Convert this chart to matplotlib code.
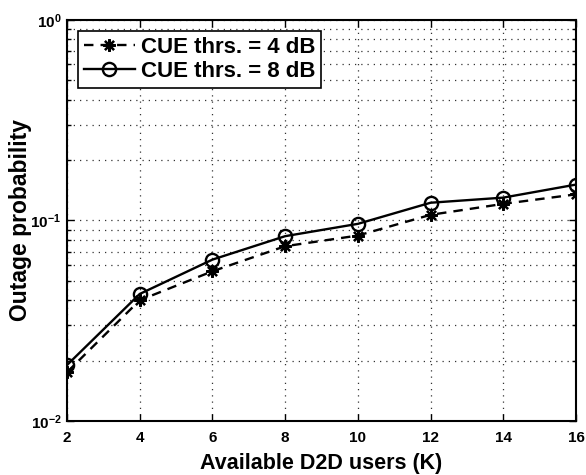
import matplotlib
matplotlib.use('Agg')
import matplotlib.pyplot as plt
from matplotlib.ticker import LogLocator, FixedLocator, LogFormatterMathtext

plt.rcParams['font.family'] = ['Liberation Sans', 'DejaVu Sans']
plt.rcParams['font.weight'] = 'bold'
plt.rcParams['mathtext.default'] = 'bf'

# data
k_users = [2, 4, 6, 8, 10, 12, 14, 16]
outage_4db = [0.0175, 0.040, 0.0558, 0.0744, 0.0841, 0.1067, 0.121, 0.135]
outage_8db = [0.019, 0.043, 0.0638, 0.0835, 0.0962, 0.1226, 0.130, 0.151]
labels = ['CUE thrs. = 4 dB', 'CUE thrs. = 8 dB']

fig = plt.figure(figsize=(5.86, 4.75), dpi=100)
ax = fig.add_axes([0.1143, 0.1137, 0.8687, 0.8443])

ax.plot(k_users, outage_4db, '--', color='k', lw=1.7, dashes=(4, 3), marker=(8, 2, 0),
        ms=9, mec='k', mew=1.6, label=labels[0])
ax.plot(k_users, outage_8db, '-', color='k', lw=1.7, marker='o', ms=9.5,
        mfc='none', mec='k', mew=1.7, label=labels[1])

ax.set_yscale('log')
ax.set_xlim(2, 16)
ax.set_ylim(1e-2, 1e0)
ax.set_xticks(k_users)
ax.yaxis.set_major_locator(FixedLocator([1e-2, 1e-1, 1e0]))
ax.yaxis.set_minor_locator(LogLocator(base=10, subs=range(2, 10)))
ax.yaxis.set_major_formatter(LogFormatterMathtext())

grid_style = dict(linestyle=(0, (1, 4)), color='#333333', lw=0.9)
ax.grid(True, which='major', **grid_style)
ax.grid(True, which='minor', axis='y', **grid_style)
ax.tick_params(which='both', direction='in', top=True, right=True, labelsize=11)
ax.tick_params(which='major', length=5, width=1)
ax.tick_params(which='minor', length=3, width=1)
ax.tick_params(axis='x', pad=7)
ax.tick_params(axis='y', pad=4)
for sp in ax.spines.values():
    sp.set_linewidth(1.5)
for lab in ax.get_xticklabels() + ax.get_yticklabels():
    lab.set_fontweight('bold')

ax.set_xlabel('Available D2D users (K)', fontsize=15.5, fontweight='bold', labelpad=6)
ax.set_ylabel('Outage probability', fontsize=16.5, fontweight='bold', labelpad=-1)

leg = ax.legend(loc='upper left', fontsize=16, fancybox=False, framealpha=1,
                edgecolor='k', handlelength=2.3, borderpad=0.25,
                labelspacing=0.15, handletextpad=0.3, borderaxespad=0.5)
leg.get_frame().set_linewidth(1.2)

fig.savefig('out.png', dpi=100)
